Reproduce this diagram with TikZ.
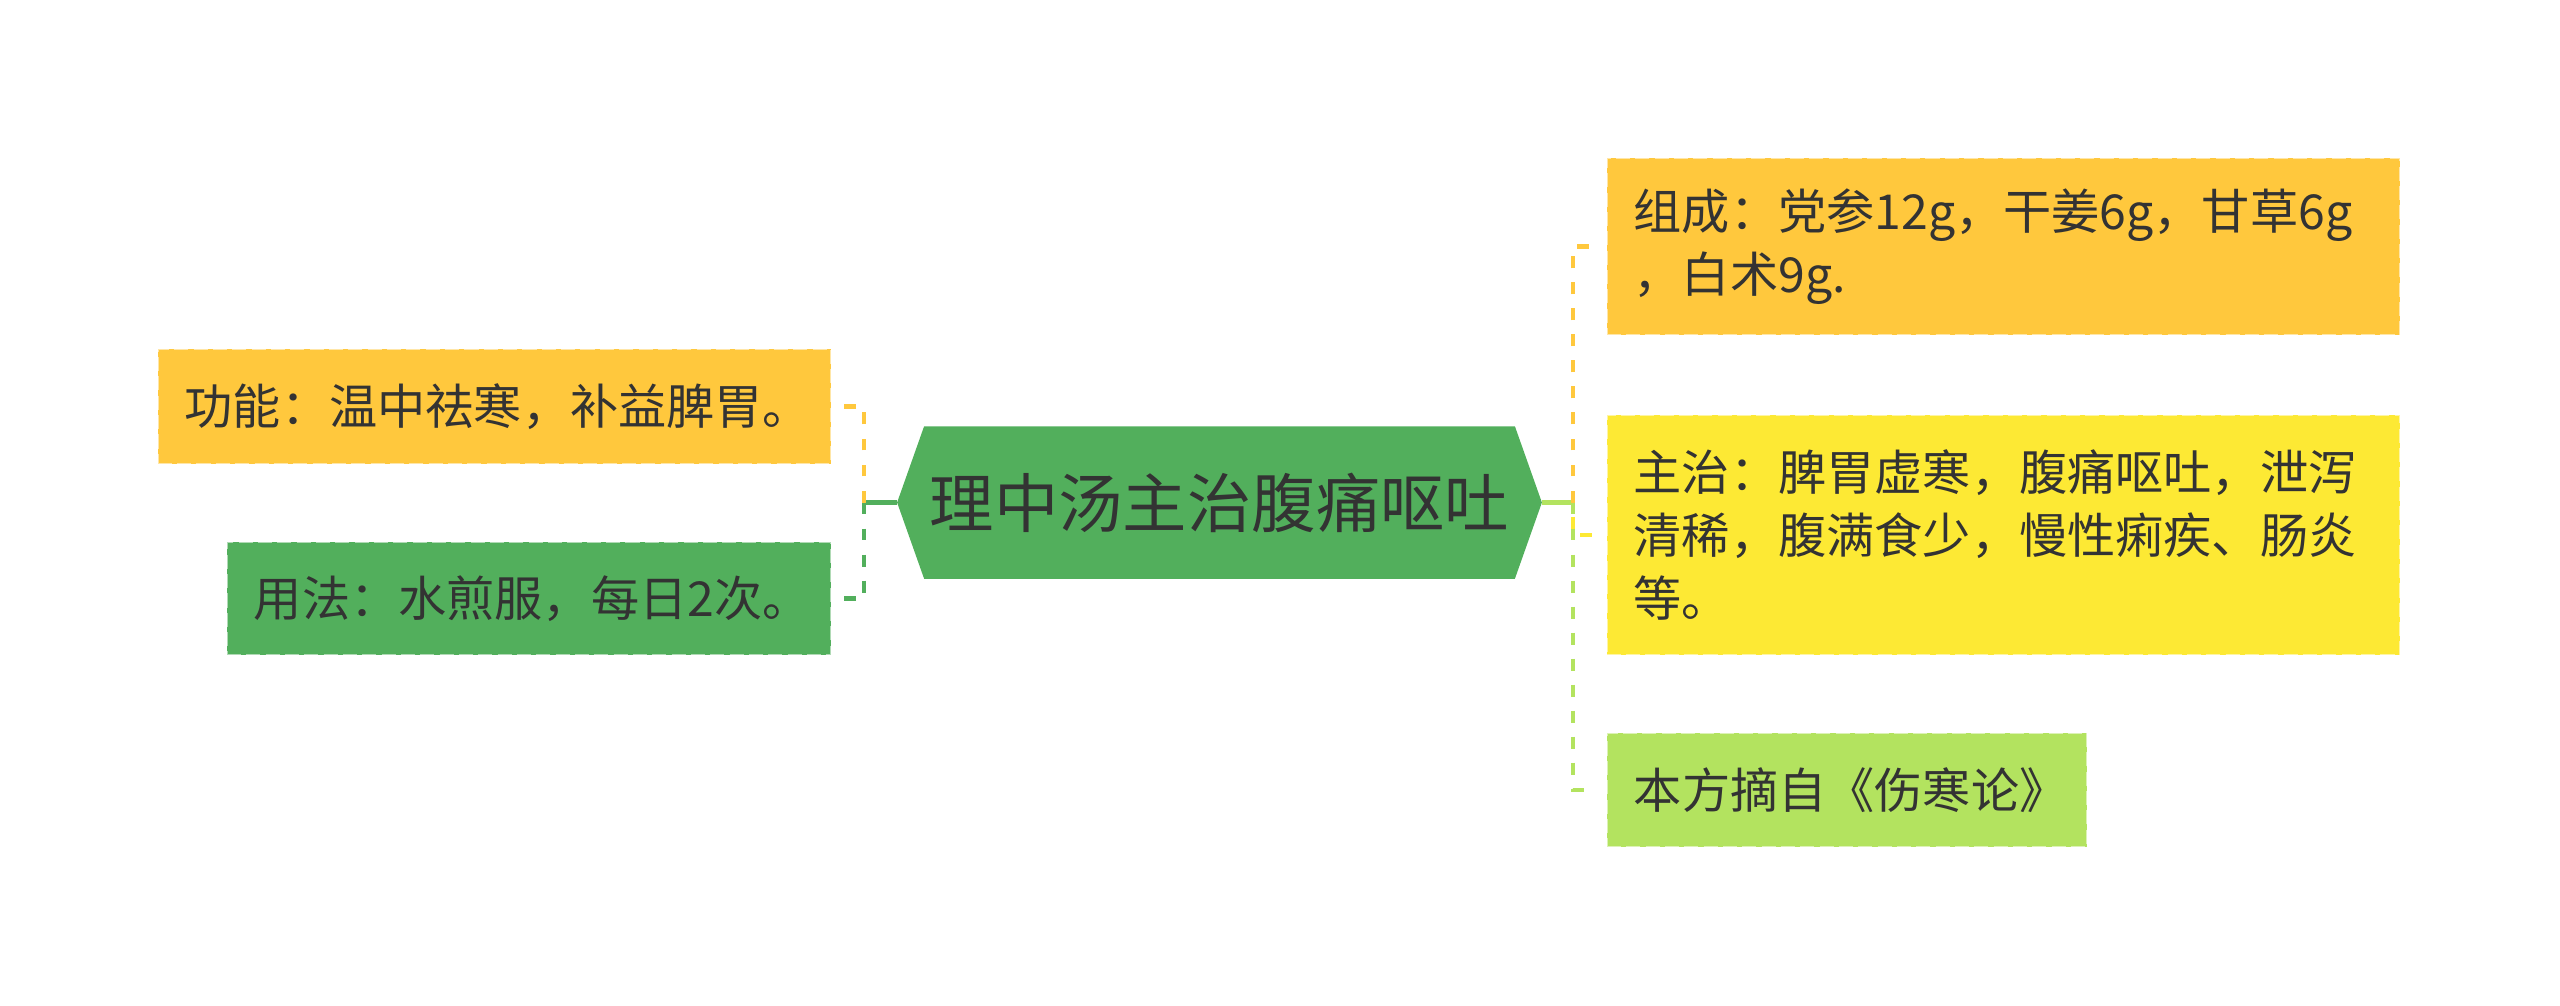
\documentclass[tikz,border=0pt]{standalone}
\usepackage{fontspec}
\setmainfont{Noto Sans CJK SC}
\newfontfamily\cjk{Noto Sans CJK SC}
\usetikzlibrary{calc,backgrounds}
\definecolor{OrangeClr}{RGB}{255,200,61}
\definecolor{YellowClr}{RGB}{253,233,52}
\definecolor{GreenClr}{RGB}{82,175,92}
\definecolor{LimeClr}{RGB}{179,227,95}
\definecolor{TextClr}{RGB}{51,51,51}

\begin{document}
\begin{tikzpicture}[x=0.01cm,y=-0.01cm,
  box/.style={rectangle,align=left,inner xsep=0.27cm,inner ysep=0pt,text=TextClr,
    font=\cjk\fontsize{13.7}{17.9}\selectfont,
    draw=white,draw opacity=0.55,line width=0.6pt,dash pattern=on 4pt off 1.5pt},
  link/.style={line width=1.35pt,dash pattern=on 3.4pt off 4pt},
  stem/.style={line width=1.5pt}]
\useasboundingbox (0,0) rectangle (2560,1006);

\node (root) [text=TextClr,font=\cjk\fontsize{18.3}{22}\selectfont,
  minimum width=6.43cm,minimum height=1.51cm] at (1219.5,502.5) {理中汤主治腹痛呕吐};
\begin{scope}[on background layer]
\fill[GreenClr] (root.west) -- ($(root.north west)+(27,0)$) -- ($(root.north east)+(-27,0)$)
  -- (root.east) -- ($(root.south east)+(-27,0)$) -- ($(root.south west)+(27,0)$) -- cycle;
\end{scope}

\node (gn) [box,fill=OrangeClr,text width=6.19cm,minimum height=1.15cm] at (494.5,406.5)
  {功能：温中祛寒，补益脾胃。};
\node (yf) [box,fill=GreenClr,text width=5.50cm,minimum height=1.13cm] at (529,598.5)
  {用法：水煎服，每日2次。};
\node (zc) [box,fill=OrangeClr,text width=7.39cm,minimum height=1.77cm] at (2003.5,246.5)
  {组成：党参12g，干姜6g，甘草6g\\，白术9g.};
\node (zz) [box,fill=YellowClr,text width=7.39cm,minimum height=2.40cm] at (2003.5,535)
  {主治：脾胃虚寒，腹痛呕吐，泄泻\\清稀，腹满食少，慢性痢疾、肠炎\\等。};
\node (bf) [box,fill=LimeClr,text width=4.26cm,minimum height=1.14cm] at (1847,790)
  {本方摘自《伤寒论》};

\coordinate (lj) at ($(root.west)+(-33,0)$);
\coordinate (rj) at ($(root.east)+(31,0)$);

\draw[stem,GreenClr] (root.west) -- (lj);
\draw[link,OrangeClr] (lj) |- ($(gn.east)+(11,0)$);
\draw[link,GreenClr] (lj) |- ($(yf.east)+(11,0)$);

\draw[stem,LimeClr] (root.east) -- (rj);
\draw[link,OrangeClr] (rj) |- ($(zc.west)+(-11,0)$);
\draw[link,YellowClr,dash phase=3.4pt] (rj) |- ($(zz.west)+(-11,0)$);
\draw[link,LimeClr] (rj) |- ($(bf.west)+(-11,0)$);

\end{tikzpicture}
\end{document}
